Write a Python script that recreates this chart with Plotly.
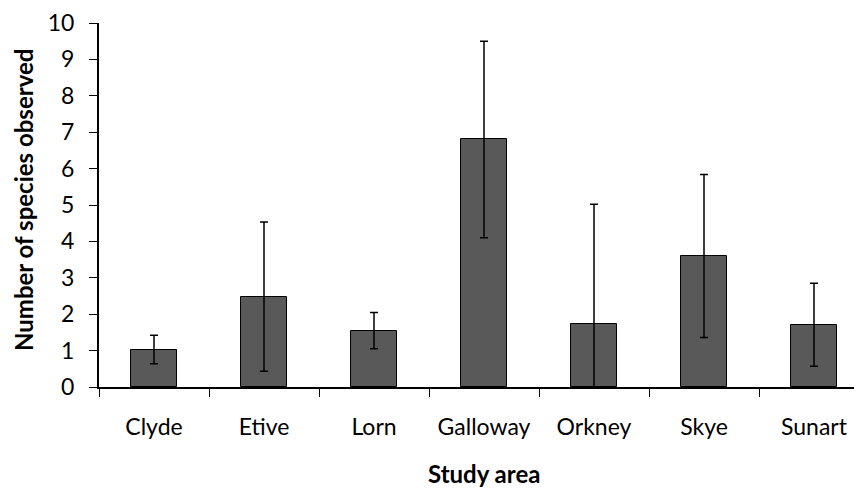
import plotly.graph_objects as go

areas = ["Clyde", "Etive", "Lorn", "Galloway", "Orkney", "Skye", "Sunart"]
species_mean = [1.03, 2.48, 1.55, 6.80, 1.74, 3.60, 1.71]
species_err = [0.39, 2.05, 0.50, 2.70, 3.28, 2.24, 1.14]
y_ticks = [0, 1, 2, 3, 4, 5, 6, 7, 8, 9, 10]
x_title = "Study area"
y_title = "Number of species observed"

FONT = "Lato"
TICK_SIZE = 23
TITLE_SIZE = 24

fig = go.Figure()
fig.add_trace(go.Bar(
    x=areas,
    y=species_mean,
    width=0.41,
    marker=dict(color="#595959", line=dict(color="#000000", width=1)),
    error_y=dict(type="data", array=species_err, visible=True,
                 color="#000000", thickness=1.5, width=4),
))

# the page body adds an 8px margin top/left, so the figure is 854x481
fig.update_layout(
    width=854, height=481,
    margin=dict(l=91, r=0, t=15, b=102),
    paper_bgcolor="white", plot_bgcolor="white",
    showlegend=False,
    font=dict(family=FONT, color="#000000", size=TICK_SIZE),
    bargap=0,
)
fig.update_xaxes(
    type="category",
    range=[-0.5, 6.5 - 7 / 110],
    automargin=False,
    showline=True, linecolor="#000000", linewidth=2,
    ticks="outside", tickson="boundaries", ticklen=8, tickcolor="#000000", tickwidth=1,
    showgrid=False, zeroline=False,
    tickfont=dict(family=FONT, size=TICK_SIZE),
    ticklabelstandoff=18,
)
fig.update_yaxes(
    range=[0, 10],
    automargin=False,
    tickvals=y_ticks,
    showline=True, linecolor="#000000", linewidth=2,
    ticks="outside", ticklen=8, tickcolor="#000000", tickwidth=1,
    showgrid=False, zeroline=False,
    tickfont=dict(family=FONT, size=TICK_SIZE),
    ticklabelstandoff=10,
)

fig.add_annotation(
    text="<b>" + x_title + "</b>", xref="paper", yref="paper",
    x=(484 - 99) / 763, y=(387 - 473) / 364, xanchor="center", yanchor="middle",
    showarrow=False, font=dict(family=FONT, size=TITLE_SIZE, color="#000000"),
)
fig.add_annotation(
    text="<b>" + y_title + "</b>", xref="paper", yref="paper",
    x=(23 - 99) / 763, y=(387 - 200) / 364, xanchor="center", yanchor="middle",
    textangle=-90,
    showarrow=False, font=dict(family=FONT, size=TITLE_SIZE, color="#000000"),
)

fig.write_html("out.html")
